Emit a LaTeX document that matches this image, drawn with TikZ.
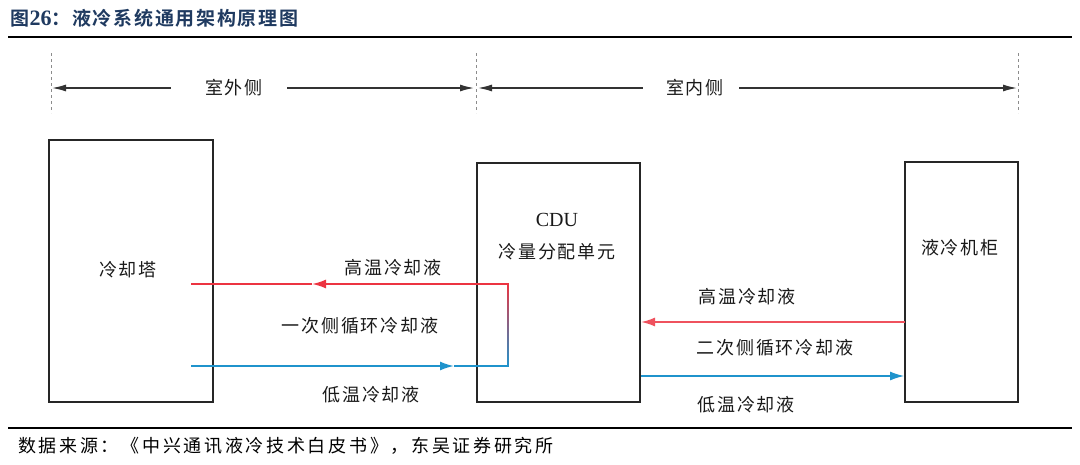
\documentclass[tikz,border=0pt]{standalone}
\usepackage{fontspec}
\setmainfont[LetterSpace=11]{Noto Sans CJK SC}
\newfontfamily\cjkbold[LetterSpace=9]{Noto Sans CJK SC Bold}
\newfontfamily\cjksource[LetterSpace=15]{Noto Sans CJK SC}
\newfontfamily\latinserif{Liberation Serif}
\usetikzlibrary{arrows.meta,positioning}

\definecolor{titleblue}{HTML}{1F3A60}
\definecolor{hotred}{HTML}{EC3441}
\definecolor{coldblue}{HTML}{1F93CC}

\tikzset{
  unitbox/.style={draw=black!85,line width=1.6pt},
  sidearrow/.style={draw=black!80,line width=1.4pt,-{Latex[length=14pt,width=7pt]}},
  zoneline/.style={draw=black!45,dashed,line width=0.8pt},
  hotline/.style={draw=hotred,line width=1.8pt},
  coldline/.style={draw=coldblue,line width=1.8pt},
  flowtip/.style={-{Latex[length=14pt,width=9pt]}},
  lbl/.style={font=\fontsize{18}{18}\selectfont,text=black!90,inner sep=0pt},
}

\begin{document}
\begin{tikzpicture}[x=1pt,y=-1pt]
	\useasboundingbox (0,0) rectangle (1080,464);

	% Title and rules
	\node[anchor=west,text=titleblue,font=\cjkbold\fontsize{19}{19}\selectfont] (title) at (7,18) {图{\latinserif\bfseries\fontsize{22}{22}\selectfont 26}：液冷系统通用架构原理图};
	\draw[line width=1.5pt] (8,37) -- (1072,37);
	\draw[line width=1.5pt] (8,428) -- (1072,428);
	\node[anchor=west,font=\cjksource\fontsize{18}{18}\selectfont,inner sep=0pt] (source) at (18,446) {数据来源：《中兴通讯液冷技术白皮书》，东吴证券研究所};

	% Zone borders
	\draw[zoneline] (51,53) -- (51,113);
	\draw[zoneline] (476,53) -- (476,113);
	\draw[zoneline] (1018,53) -- (1018,113);

	% Zone labels and arrows
	\node[lbl] (outside) at (234,88) {室外侧};
	\node[lbl] (inside) at (695,88) {室内侧};
	\coordinate (oL) at (52,88);
	\coordinate (oR) at (474,88);
	\coordinate (iL) at (478,88);
	\coordinate (iR) at (1017,88);
	\draw[sidearrow] ([xshift=-34pt]outside.west) -- (oL);
	\draw[sidearrow] ([xshift=24pt]outside.east) -- (oR);
	\draw[sidearrow] ([xshift=-23pt]inside.west) -- (iL);
	\draw[sidearrow] ([xshift=15pt]inside.east) -- (iR);

	% Units
	\draw[unitbox] (49,140) rectangle (213,402);
	\node[lbl] (tower) at (128,270) {冷却塔};
	\draw[unitbox] (477,163) rectangle (640,402);
	\node[lbl,font=\latinserif\fontsize{20}{20}\selectfont] (cdu) at (557,220) {CDU};
	\node[lbl] (cdutext) at (557,252) {冷量分配单元};
	\draw[unitbox] (905,162) rectangle (1018,402);
	\node[lbl] (rack) at (960,248) {液冷机柜};

	% Primary loop
	\coordinate (pHotA) at (508,284);
	\coordinate (pHotM) at (312,284);
	\coordinate (pHotB) at (191,284);
	\coordinate (pColdA) at (191,366);
	\coordinate (pColdM) at (454,366);
	\coordinate (pColdB) at (508,366);
	\draw[hotline,flowtip] (pHotA) -- (pHotM);
	\draw[hotline] (pHotM) -- (pHotB);
	\draw[coldline,flowtip] (pColdA) -- (pColdM);
	\draw[coldline] (pColdM) -- (pColdB);
	\shade[top color=hotred,bottom color=coldblue] (507.2,283.1) rectangle (508.8,366.9);
	\node[lbl] (pHotText) at (393,268) {高温冷却液};
	\node[lbl] (pLoopText) at (360,326) {一次侧循环冷却液};
	\node[lbl] (pColdText) at (371,395) {低温冷却液};

	% Secondary loop
	\coordinate (sHotA) at (905,322);
	\coordinate (sHotB) at (641,322);
	\coordinate (sColdA) at (641,376);
	\coordinate (sColdB) at (904,376);
	\draw[hotline,draw=hotred!85,flowtip] (sHotA) -- (sHotB);
	\draw[coldline,line width=1.2pt,flowtip] (sColdA) -- (sColdB);
	\node[lbl] (sHotText) at (747,297) {高温冷却液};
	\node[lbl] (sLoopText) at (775,348) {二次侧循环冷却液};
	\node[lbl] (sColdText) at (746,405) {低温冷却液};
\end{tikzpicture}
\end{document}
